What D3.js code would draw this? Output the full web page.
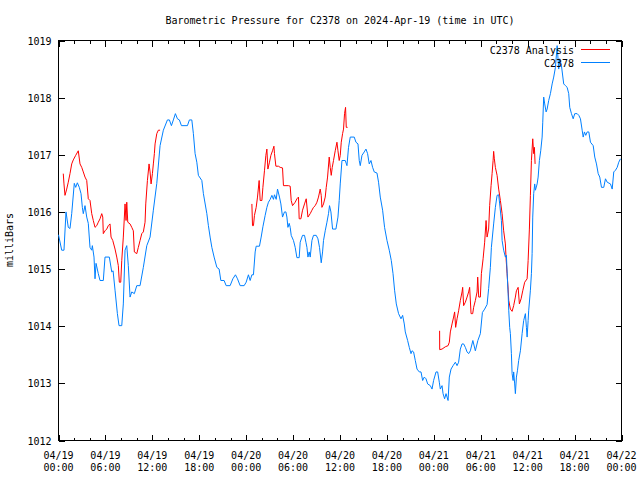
<!DOCTYPE html>
<html>
<head>
<meta charset="utf-8">
<script src="https://cdn.jsdelivr.net/npm/d3@7"></script>
<style>
  html, body { margin: 0; padding: 0; background: #fff; }
  svg { display: block; }
  text { font-family: "DejaVu Sans Mono", "Liberation Mono", monospace; font-size: 10px; fill: #000; }
</style>
</head>
<body>
<svg id="chart" width="640" height="480"></svg>
<script>
// ---- DATA (hours since 2024-04-19 00:00 UTC, pressure in milliBars) ----
const chartTitle = "Barometric Pressure for C2378 on 2024-Apr-19 (time in UTC)";
const yAxisTitle = "milliBars";
const seriesNames = ["C2378 Analysis", "C2378"];
const yTicks = [1012, 1013, 1014, 1015, 1016, 1017, 1018, 1019];
const xMajorTicks = [0, 6, 12, 18, 24, 30, 36, 42, 48, 54, 60, 66, 72];
const xTickDates = ["04/19", "04/19", "04/19", "04/19", "04/20", "04/20", "04/20", "04/20", "04/21", "04/21", "04/21", "04/21", "04/22"];
const xTickTimes = ["00:00", "06:00", "12:00", "18:00", "00:00", "06:00", "12:00", "18:00", "00:00", "06:00", "12:00", "18:00", "00:00"];

const stationData = [
  [0,1015.60],[0.41,1015.33],[0.70,1015.33],[0.96,1016.00],[1.25,1015.73],[1.47,1015.71],[1.69,1015.97],
  [2.02,1016.50],[2.20,1016.43],[2.41,1016.51],[2.66,1016.43],[2.88,1016.32],[3.05,1016.08],[3.17,1015.97],
  [3.39,1016.11],[3.61,1015.91],[3.81,1015.80],[4.03,1015.38],[4.25,1015.33],[4.33,1015.41],[4.54,1015.21],
  [4.67,1014.83],[4.80,1015.10],[5.09,1014.92],[5.31,1014.80],[5.73,1014.80],[5.95,1015.21],[6.50,1015.21],
  [6.81,1014.95],[6.98,1014.97],[7.23,1014.63],[7.53,1014.22],[7.74,1014.01],[8.09,1014.01],[8.29,1014.39],
  [8.51,1015.33],[8.73,1015.41],[8.93,1015.06],[9.15,1014.51],[9.37,1014.60],[9.70,1014.57],[10.01,1014.71],
  [10.43,1014.71],[10.85,1015.03],[11.29,1015.41],[11.71,1015.56],[12.13,1016.03],[12.57,1016.50],[12.99,1017.16],
  [13.41,1017.43],[13.93,1017.61],[14.18,1017.61],[14.44,1017.51],[14.69,1017.61],[14.95,1017.72],[15.21,1017.63],
  [15.46,1017.61],[15.72,1017.51],[16.49,1017.51],[16.74,1017.61],[17.05,1017.61],[17.25,1017.37],[17.47,1017.02],
  [17.69,1016.87],[17.89,1016.64],[18.33,1016.55],[18.53,1016.32],[18.97,1015.97],[19.17,1015.76],[19.39,1015.56],
  [19.61,1015.38],[19.90,1015.21],[20.25,1015.03],[20.54,1015.00],[20.76,1014.80],[21.18,1014.80],[21.44,1014.71],
  [21.95,1014.71],[22.30,1014.83],[22.63,1014.90],[22.89,1014.83],[23.23,1014.71],[23.74,1014.71],[24.00,1014.77],
  [24.29,1014.90],[24.51,1014.80],[24.73,1014.90],[24.93,1014.90],[25.15,1015.30],[25.28,1015.40],[25.70,1015.40],
  [25.92,1015.56],[26.14,1015.74],[26.43,1015.94],[26.65,1016.08],[26.85,1016.17],[27.07,1016.22],[27.29,1016.29],
  [27.49,1016.22],[27.62,1016.30],[27.84,1016.22],[28.01,1016.40],[28.26,1016.26],[28.44,1016.14],[28.65,1015.91],
  [28.90,1016.00],[29.08,1016.00],[29.21,1015.91],[29.34,1015.73],[29.50,1015.80],[29.63,1015.73],[29.76,1015.59],
  [30.05,1015.50],[30.27,1015.38],[30.49,1015.20],[30.78,1015.20],[30.91,1015.47],[31.21,1015.59],[31.46,1015.59],
  [31.64,1015.47],[31.77,1015.38],[31.90,1015.21],[32.06,1015.30],[32.19,1015.21],[32.41,1015.50],[32.61,1015.59],
  [32.96,1015.59],[33.18,1015.53],[33.38,1015.38],[33.60,1015.11],[33.77,1015.30],[33.89,1015.50],[34.11,1015.67],
  [34.33,1015.82],[34.53,1015.97],[34.66,1016.11],[34.84,1016.00],[35.05,1015.70],[35.48,1015.70],[35.74,1015.91],
  [35.90,1016.20],[36.03,1016.49],[36.25,1016.90],[36.67,1016.90],[36.89,1016.81],[37.09,1017.13],[37.31,1017.31],
  [37.82,1017.31],[38.04,1017.22],[38.30,1017.19],[38.46,1016.90],[38.59,1016.81],[38.81,1016.99],[39.10,1017.05],
  [39.32,1017.10],[39.53,1017.02],[39.74,1016.84],[39.96,1016.90],[40.17,1016.78],[40.38,1016.70],[40.73,1016.68],
  [40.93,1016.52],[41.15,1016.26],[41.45,1016.03],[41.70,1015.73],[42.01,1015.50],[42.30,1015.33],[42.56,1015.15],
  [42.78,1014.92],[42.98,1014.63],[43.20,1014.39],[43.49,1014.22],[43.80,1014.13],[44.01,1014.19],[44.22,1014.04],
  [44.35,1013.90],[44.65,1013.75],[44.86,1013.63],[45.08,1013.52],[45.21,1013.57],[45.41,1013.55],[45.63,1013.40],
  [45.85,1013.25],[46.14,1013.20],[46.36,1013.20],[46.57,1013.05],[46.78,1013.11],[47.00,1013.08],[47.21,1012.99],
  [47.55,1012.96],[47.77,1012.90],[47.97,1013.05],[48.28,1013.20],[48.49,1013.20],[48.70,1013.02],[48.83,1012.90],
  [49.05,1012.96],[49.18,1012.82],[49.38,1012.73],[49.56,1012.82],[49.69,1012.76],[49.82,1012.70],[49.98,1013.11],
  [50.20,1013.25],[50.46,1013.31],[50.75,1013.37],[50.97,1013.31],[51.17,1013.37],[51.39,1013.60],[51.61,1013.69],
  [51.81,1013.69],[52.03,1013.63],[52.25,1013.55],[52.45,1013.52],[52.67,1013.57],[52.99,1013.75],[53.31,1013.57],
  [53.63,1013.75],[53.95,1013.87],[54.21,1014.24],[54.50,1014.30],[54.81,1014.38],[55.01,1014.66],[55.23,1015.03],
  [55.36,1015.38],[55.65,1015.79],[55.87,1016.08],[56.09,1016.29],[56.29,1016.30],[56.42,1016.14],[56.64,1015.85],
  [56.73,1015.50],[56.93,1015.33],[57.15,1015.21],[57.28,1015.24],[57.37,1014.95],[57.50,1014.57],[57.58,1014.28],
  [57.70,1013.98],[57.79,1013.87],[57.92,1013.52],[58.01,1013.17],[58.14,1013.05],[58.21,1013.20],[58.34,1012.99],
  [58.43,1012.82],[58.56,1013.11],[58.69,1013.22],[58.85,1013.40],[59.07,1013.57],[59.29,1013.87],[59.49,1014.10],
  [59.71,1014.22],[59.84,1013.98],[59.93,1013.81],[60.06,1014.10],[60.13,1014.27],[60.35,1014.63],[60.48,1014.92],
  [60.57,1015.27],[60.65,1015.91],[60.77,1016.32],[60.90,1016.49],[60.99,1016.38],[61.21,1016.49],[61.34,1016.61],
  [61.50,1016.90],[61.67,1017.07],[61.85,1017.31],[61.93,1017.57],[62.05,1018.01],[62.18,1017.89],[62.36,1017.75],
  [62.49,1017.80],[62.69,1017.95],[62.91,1018.07],[63.13,1018.24],[63.33,1018.36],[63.55,1018.53],[63.77,1018.91],
  [63.97,1018.50],[64.10,1018.68],[64.32,1018.56],[64.61,1018.24],[64.83,1018.21],[65.05,1018.18],[65.25,1018.07],
  [65.38,1017.83],[65.60,1017.72],[65.82,1017.63],[66.02,1017.72],[66.33,1017.72],[66.54,1017.69],[66.75,1017.63],
  [66.97,1017.43],[67.10,1017.31],[67.26,1017.40],[67.43,1017.34],[67.61,1017.40],[67.82,1017.40],[68.03,1017.22],
  [68.38,1017.16],[68.58,1016.96],[68.80,1016.84],[69.02,1016.67],[69.22,1016.61],[69.44,1016.43],[69.73,1016.43],
  [69.95,1016.58],[70.17,1016.52],[70.59,1016.49],[70.81,1016.40],[71.01,1016.70],[71.23,1016.73],[71.45,1016.78],
  [71.65,1016.87],[71.87,1016.93]
];

const analysisSeg1 = [
  [0.61,1016.67],[0.70,1016.49],[0.83,1016.29],[1.05,1016.40],[1.25,1016.52],[1.47,1016.67],[1.69,1016.84],
  [1.89,1016.91],[2.20,1016.99],[2.53,1017.07],[2.75,1016.84],[2.97,1016.78],[3.17,1016.70],[3.39,1016.61],
  [3.61,1016.55],[3.81,1016.23],[4.03,1016.20],[4.25,1015.97],[4.45,1015.85],[4.67,1015.73],[4.89,1015.76],
  [5.09,1015.82],[5.31,1015.88],[5.53,1015.97],[5.66,1015.91],[5.73,1015.62],[5.95,1015.67],[6.17,1015.70],
  [6.37,1015.76],[6.59,1015.79],[6.72,1015.56],[6.94,1015.50],[7.23,1015.35],[7.45,1015.21],[7.65,1015.06],
  [7.78,1014.77],[7.96,1014.77],[8.09,1015.15],[8.29,1015.56],[8.51,1016.14],[8.64,1015.85],[8.73,1016.17],
  [8.86,1015.82],[9.15,1015.79],[9.37,1015.73],[9.57,1015.67],[9.70,1015.30],[10.01,1015.27],[10.21,1015.38],
  [10.43,1015.50],[10.65,1015.62],[10.85,1015.65],[11.07,1015.82],[11.16,1016.14],[11.37,1016.55],[11.58,1016.84],
  [11.71,1016.70],[11.84,1016.49],[12.01,1016.67],[12.13,1016.84],[12.26,1017.02],[12.35,1017.19],[12.57,1017.37],
  [12.77,1017.43],[12.99,1017.43]
];

const analysisSeg2 = [
  [24.73,1016.14],[24.81,1015.76],[24.93,1015.76],[25.06,1015.94],[25.28,1016.08],[25.45,1016.26],[25.66,1016.55],
  [25.79,1016.20],[26.01,1016.20],[26.14,1016.43],[26.34,1016.72],[26.52,1016.99],[26.65,1017.10],[26.78,1016.75],
  [26.98,1016.87],[27.16,1016.99],[27.37,1017.07],[27.55,1017.15],[27.62,1017.02],[27.80,1016.80],[28.13,1016.80],
  [28.35,1016.78],[28.65,1016.77],[28.77,1016.46],[29.41,1016.46],[29.63,1016.45],[29.76,1016.20],[29.93,1016.11],
  [30.27,1016.17],[30.49,1016.23],[30.69,1016.26],[30.78,1015.88],[31.00,1015.88],[31.21,1016.03],[31.46,1016.14],
  [31.68,1016.23],[31.90,1015.91],[32.19,1015.97],[32.41,1016.03],[32.61,1016.08],[32.83,1016.11],[33.05,1016.17],
  [33.25,1016.26],[33.47,1016.40],[33.60,1016.29],[33.69,1016.08],[33.89,1016.14],[34.11,1016.26],[34.24,1016.43],
  [34.41,1016.61],[34.62,1016.96],[34.75,1016.78],[34.88,1016.64],[35.01,1016.78],[35.17,1016.90],[35.39,1017.07],
  [35.61,1017.22],[35.74,1017.07],[35.90,1016.90],[36.03,1016.99],[36.16,1017.22],[36.33,1017.37],[36.45,1017.45],
  [36.58,1017.72],[36.71,1017.83],[36.80,1017.48],[36.97,1017.48]
];

const analysisSeg3 = [
  [48.74,1013.92],[48.75,1013.59],[49.05,1013.60],[49.47,1013.64],[49.82,1013.66],[49.98,1013.72],[50.11,1013.90],
  [50.33,1014.04],[50.53,1014.16],[50.66,1014.25],[50.79,1013.98],[50.97,1014.13],[51.17,1014.27],[51.39,1014.45],
  [51.61,1014.60],[51.69,1014.68],[51.81,1014.36],[52.03,1014.42],[52.25,1014.51],[52.45,1014.60],[52.58,1014.68],
  [52.76,1014.22],[52.97,1014.22],[53.09,1014.33],[53.31,1014.45],[53.53,1014.60],[53.61,1014.86],[53.74,1014.51],
  [53.95,1014.51],[54.08,1014.92],[54.30,1015.18],[54.50,1015.47],[54.68,1015.85],[54.81,1015.56],[55.01,1015.70],
  [55.14,1016.11],[55.32,1016.46],[55.45,1016.67],[55.58,1016.90],[55.65,1017.06],[55.74,1016.93],[55.87,1016.78],
  [56.09,1016.64],[56.29,1016.40],[56.51,1016.20],[56.73,1015.97],[56.93,1015.67],[57.15,1015.44],[57.24,1015.18],
  [57.37,1014.92],[57.50,1014.65],[57.58,1014.45],[57.79,1014.30],[58.01,1014.26],[58.21,1014.36],[58.43,1014.51],
  [58.56,1014.62],[58.78,1014.68],[58.94,1014.39],[59.16,1014.48],[59.37,1014.62],[59.62,1014.77],[59.93,1014.83],
  [60.06,1015.15],[60.22,1015.70],[60.35,1016.29],[60.48,1016.90],[60.65,1017.28],[60.77,1017.02],[60.86,1017.13],
  [60.95,1016.84]
];

// ---- CHART ----
(function () {
const W = 640, H = 480;
const pLeft = 58.5, pRight = 621.5, pTop = 40.5, pBottom = 440.5;
const colors = { analysis: "#ff0000", station: "#0080ff" };

const svg = d3.select("#chart");
svg.append("rect").attr("width", W).attr("height", H).attr("fill", "#fff");

const x = d3.scaleLinear().domain([0, 72]).range([pLeft, pRight]);
const y = d3.scaleLinear().domain([1012, 1019]).range([pBottom, pTop]);

const minorTicks = d3.range(0, 73, 2).filter(h => h % 6 !== 0);

function styleAxis(g) {
  g.select(".domain").remove();
  g.selectAll(".tick line").attr("stroke", "#000").attr("shape-rendering", "crispEdges");
  g.selectAll(".tick text").remove();
}

svg.append("g").attr("transform", `translate(0,${pBottom})`)
  .call(d3.axisBottom(x).tickValues(xMajorTicks).tickSize(-6)).call(styleAxis);
svg.append("g").attr("transform", `translate(0,${pBottom})`)
  .call(d3.axisBottom(x).tickValues(minorTicks).tickSize(-3)).call(styleAxis);
svg.append("g").attr("transform", `translate(0,${pTop})`)
  .call(d3.axisTop(x).tickValues(xMajorTicks).tickSize(-6)).call(styleAxis);
svg.append("g").attr("transform", `translate(0,${pTop})`)
  .call(d3.axisTop(x).tickValues(minorTicks).tickSize(-3)).call(styleAxis);
svg.append("g").attr("transform", `translate(${pLeft},0)`)
  .call(d3.axisLeft(y).tickValues(yTicks).tickSize(-6)).call(styleAxis);
svg.append("g").attr("transform", `translate(${pRight},0)`)
  .call(d3.axisRight(y).tickValues(yTicks).tickSize(-6)).call(styleAxis);

svg.append("rect")
  .attr("x", pLeft).attr("y", pTop)
  .attr("width", pRight - pLeft).attr("height", pBottom - pTop)
  .attr("fill", "none").attr("stroke", "#000").attr("stroke-width", 1)
  .attr("shape-rendering", "crispEdges");

svg.append("g").selectAll("text").data(yTicks).join("text")
  .attr("x", pLeft - 7).attr("y", d => y(d) + 4)
  .attr("text-anchor", "end").text(d => d);

const xl = svg.append("g").selectAll("text").data(xMajorTicks).join("text")
  .attr("text-anchor", "middle");
xl.append("tspan").attr("x", d => x(d)).attr("y", 459).text((d, i) => xTickDates[i]);
xl.append("tspan").attr("x", d => x(d)).attr("y", 471).text((d, i) => xTickTimes[i]);

svg.append("text").attr("x", (pLeft + pRight) / 2).attr("y", 24)
  .attr("text-anchor", "middle").text(chartTitle);

svg.append("text")
  .attr("transform", "translate(13,240) rotate(-90)")
  .attr("text-anchor", "middle").text(yAxisTitle);

const line = d3.line().x(d => x(d[0])).y(d => y(d[1]));
const plot = svg.append("g");
[analysisSeg1, analysisSeg2, analysisSeg3].forEach(seg => {
  plot.append("path").datum(seg).attr("d", line)
    .attr("fill", "none").attr("stroke", colors.analysis).attr("stroke-width", 1);
});
plot.append("path").datum(stationData).attr("d", line)
  .attr("fill", "none").attr("stroke", colors.station).attr("stroke-width", 1);

const legend = svg.append("g");
const legendItems = [
  { name: seriesNames[0], color: colors.analysis, yy: 49.5 },
  { name: seriesNames[1], color: colors.station, yy: 62.5 }
];
legendItems.forEach(it => {
  legend.append("text").attr("x", 574).attr("y", it.yy + 4)
    .attr("text-anchor", "end").text(it.name);
  legend.append("line").attr("x1", 581).attr("x2", 610)
    .attr("y1", it.yy).attr("y2", it.yy)
    .attr("stroke", it.color).attr("stroke-width", 1).attr("shape-rendering", "crispEdges");
});
})();
</script>
</body>
</html>
